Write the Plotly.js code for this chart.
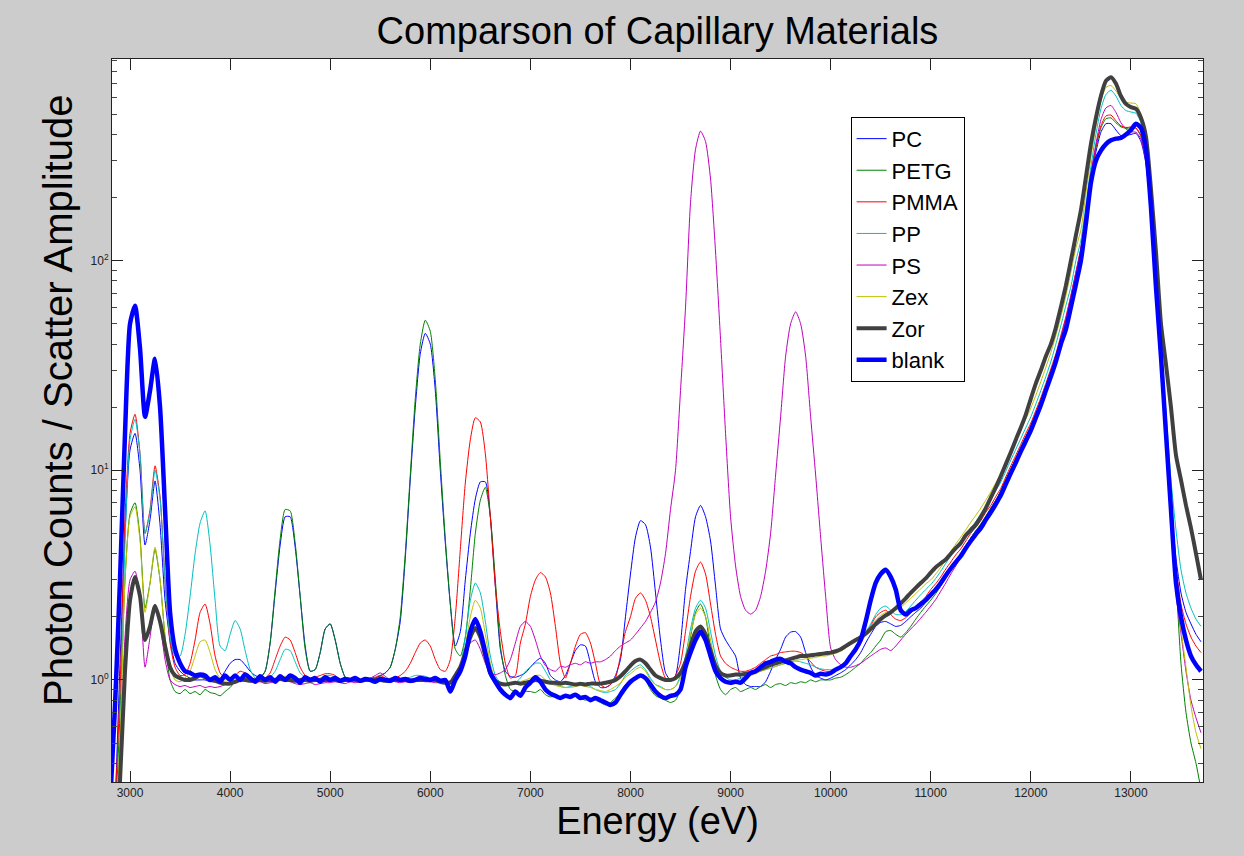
<!DOCTYPE html>
<html><head><meta charset="utf-8">
<script src="https://cdn.plot.ly/plotly-3.0.1.min.js"></script>
<style>html,body{margin:0;padding:0;background:#cccccc}</style>
</head><body><div id="chart" style="width:1244px;height:856px"></div>
<script>
const energy = [2800,2850,2900,2950,
3000,3050,3100,3150,3200,3250,3300,3350,3400,3450,3500,3550,3600,3650,3700,3750,3800,3850,3900,3950,
4000,4050,4100,4150,4200,4250,4300,4350,4400,4450,4500,4550,4600,4650,4700,4750,4800,4850,4900,4950,
5000,5050,5100,5150,5200,5250,5300,5350,5400,5450,5500,5550,5600,5650,5700,5750,5800,5850,5900,5950,
6000,6050,6100,6150,6200,6250,6300,6350,6400,6450,6500,6550,6600,6650,6700,6750,6800,6850,6900,6950,
7000,7050,7100,7150,7200,7250,7300,7350,7400,7450,7500,7550,7600,7650,7700,7750,7800,7850,7900,7950,
8000,8050,8100,8150,8200,8250,8300,8350,8400,8450,8500,8550,8600,8650,8700,8750,8800,8850,8900,8950,
9000,9050,9100,9150,9200,9250,9300,9350,9400,9450,9500,9550,9600,9650,9700,9750,9800,9850,9900,9950,
10000,10050,10100,10150,10200,10250,10300,10350,10400,10450,10500,10550,10600,10650,10700,10750,10800,10850,10900,10950,
11000,11050,11100,11150,11200,11250,11300,11350,11400,11450,11500,11550,11600,11650,11700,11750,11800,11850,11900,11950,
12000,12050,12100,12150,12200,12250,12300,12350,12400,12450,12500,12550,12600,12650,12700,12750,12800,12850,12900,12950,
13000,13050,13100,13150,13200,13250,13300,13350,13400,13450,13500,13550,13600,13650,13700];

const PC = [0.1,0.25,1.2,5,
12.5,15,10,4.4,5.8,8.9,5.5,2.4,1.55,1.2,1.1,1.05,1.02,1.0,1.0,1.0,0.98,1.0,1.02,1.1,
1.2,1.25,1.25,1.18,1.1,1.05,1.03,1.1,1.5,2.6,4.4,6.0,6.0,4.3,2.5,1.45,1.1,1.12,1.35,1.75,
1.85,1.55,1.2,1.03,1.0,1.0,1.0,1.0,1.0,1.02,1.05,1.08,1.15,1.4,1.9,3.8,9,20,36,45,
40,24,10,4.5,2.3,1.45,1.7,3.0,5.0,7.3,8.8,8.8,6.0,2.8,1.4,1.1,1.04,1.03,1.05,1.08,
1.15,1.22,1.27,1.2,1.05,1.0,0.98,1.05,1.2,1.38,1.47,1.45,1.2,0.98,0.92,0.92,0.95,1.05,1.25,2.0,
3.2,4.8,5.75,5.5,4.3,2.6,1.55,1.08,1.0,1.05,1.5,2.7,4.1,6.0,6.8,6.0,4.6,2.8,1.75,1.55,
1.42,1.3,1.02,0.95,0.93,0.93,0.93,0.98,1.1,1.25,1.4,1.6,1.69,1.7,1.6,1.35,1.15,1.05,1.02,1.0,
1.02,1.05,1.08,1.12,1.18,1.25,1.35,1.5,1.65,1.8,1.88,1.9,1.85,1.8,1.82,1.9,2.0,2.1,2.2,2.35,
2.55,2.7,2.9,3.15,3.4,3.7,4.0,4.35,4.75,5.15,5.5,6.0,6.6,7.2,8.0,9.0,10.1,11.4,12.9,14.5,
16.3,18.7,21.5,25,29.5,35,42,52,65,85,110,165,245,330,410,450,450,420,395,395,
400,405,370,290,160,68,32,15,7,3.8,2.6,2.1,1.85,1.65,1.52];

const PETG = [0.1,0.2,0.7,3.0,
6.2,7.0,4.8,2.2,2.9,4.2,3.0,1.6,1.0,0.88,0.86,0.9,0.86,0.88,0.85,0.9,0.87,0.86,0.84,0.88,
0.92,0.98,1.0,1.02,1.0,1.0,1.02,1.1,1.5,2.7,4.7,6.5,6.4,4.5,2.5,1.4,1.1,1.12,1.35,1.75,
1.85,1.55,1.2,1.03,1.0,1.0,0.99,1.0,1.0,1.02,1.04,1.08,1.15,1.4,2.0,4.0,9.5,22,40,52,
46,27,11,4.7,2.3,1.4,1.3,1.6,2.7,5.0,7.2,8.3,6.0,3.0,1.45,1.05,0.9,0.88,0.86,0.88,
0.88,0.87,0.9,0.85,0.83,0.84,0.82,0.84,0.83,0.85,0.82,0.8,0.82,0.8,0.78,0.76,0.78,0.82,0.86,0.95,
0.98,1.03,1.05,1.0,0.9,0.84,0.82,0.8,0.78,0.8,0.9,1.15,1.6,2.1,2.3,2.0,1.4,1.05,0.9,0.85,
0.9,0.92,0.88,0.9,0.92,0.9,0.93,0.95,0.92,0.95,0.96,0.94,0.97,0.96,0.98,0.97,1.0,0.98,1.0,1.0,
1.0,1.02,1.03,1.06,1.1,1.15,1.2,1.28,1.35,1.45,1.55,1.7,1.72,1.65,1.6,1.68,1.8,1.95,2.1,2.25,
2.4,2.58,2.8,3.05,3.35,3.65,3.95,4.35,4.75,5.15,5.55,6.05,6.6,7.2,7.95,9.0,10.1,11.4,12.8,14.4,
16.2,18.6,21.4,25,29.5,35,42.5,52,66,86,112,168,250,345,430,475,480,455,435,428,
430,428,390,300,165,70,33,15,7,3.0,1.2,0.7,0.5,0.4,0.3];

const PMMA = [0.1,0.25,0.9,6,
15,18.5,12,5.0,6.5,10.5,7.5,3.0,1.5,1.15,1.05,1.06,1.2,1.55,2.1,2.3,1.85,1.3,1.08,1.02,
1.02,1.05,1.1,1.08,1.03,1.0,1.0,1.02,1.08,1.25,1.45,1.6,1.55,1.35,1.15,1.05,1.02,1.03,1.05,1.07,
1.07,1.05,1.0,1.0,1.0,1.0,0.99,1.0,1.02,1.03,1.05,1.02,1.0,1.02,1.05,1.1,1.2,1.35,1.5,1.55,
1.45,1.25,1.12,1.1,1.25,2.0,4.2,8.7,14,17.8,17,12,6.0,2.8,1.7,1.2,1.02,1.05,1.5,1.85,
2.5,3.0,3.25,3.1,2.6,1.8,1.2,1.02,1.2,1.45,1.65,1.68,1.5,1.2,0.95,0.92,0.95,1.02,1.3,1.7,
2.0,2.45,2.6,2.4,2.0,1.55,1.2,1.02,1.0,1.05,1.2,1.7,2.5,3.3,3.65,3.2,2.3,1.65,1.3,1.2,
1.15,1.12,1.1,1.1,1.12,1.15,1.2,1.25,1.3,1.32,1.35,1.36,1.37,1.37,1.35,1.3,1.22,1.15,1.12,1.1,
1.1,1.12,1.15,1.2,1.28,1.38,1.5,1.65,1.82,2.0,2.1,2.15,2.05,1.95,1.92,1.98,2.08,2.2,2.35,2.5,
2.7,2.88,3.1,3.38,3.65,3.95,4.22,4.6,5.0,5.35,5.75,6.3,6.8,7.5,8.2,9.3,10.5,11.8,13.3,15,
16.8,19.3,22.2,26,30.5,36,44,54,68,88,115,170,255,350,440,490,495,465,440,432,
434,430,395,305,170,72,34,16,7.5,3.5,2.3,1.85,1.6,1.45,1.35];

const PP = [0.1,0.2,0.5,4.5,
14,17.5,12,5.0,6.3,10,7.3,3.0,1.6,1.3,1.3,1.65,2.5,4.0,5.6,6.4,4.4,2.4,1.45,1.38,
1.65,1.92,1.75,1.38,1.12,1.02,1.0,1.0,1.03,1.1,1.25,1.4,1.38,1.22,1.08,1.03,1.0,1.0,1.02,1.05,
1.05,1.03,1.0,1.0,1.01,1.0,1.0,1.02,1.0,1.01,1.0,1.0,1.02,1.01,1.0,1.02,1.03,1.05,1.05,1.04,
1.02,1.0,1.0,0.98,0.97,1.0,1.15,1.6,2.4,2.9,2.6,1.9,1.3,1.05,0.97,0.96,0.95,0.97,1.02,1.1,
1.15,1.2,1.2,1.1,1.0,0.95,0.93,0.92,0.93,0.95,0.97,0.96,0.93,0.9,0.88,0.87,0.88,0.9,0.96,1.05,
1.1,1.15,1.18,1.12,1.02,0.95,0.93,0.9,0.9,0.93,1.05,1.3,1.75,2.2,2.4,2.2,1.7,1.3,1.1,1.03,
1.0,1.0,1.02,1.04,1.06,1.08,1.1,1.12,1.14,1.16,1.18,1.2,1.22,1.23,1.22,1.2,1.18,1.15,1.13,1.12,
1.12,1.13,1.15,1.2,1.28,1.38,1.52,1.68,1.85,2.05,2.2,2.25,2.15,2.05,2.05,2.12,2.25,2.4,2.55,2.7,
2.85,3.05,3.3,3.6,3.9,4.2,4.5,4.9,5.3,5.7,6.15,6.7,7.3,8.0,8.8,9.9,11.2,12.6,14.2,16,
18,20.7,24,28,33,40,49,61,75,100,125,185,280,400,530,620,650,610,550,520,
512,505,455,350,200,85,40,19,9,5.2,3.35,2.6,2.2,1.95,1.8];

const PS = [0.1,0.2,0.4,1.6,
3.0,3.3,2.5,1.15,1.6,2.3,1.85,1.25,1.0,0.95,0.93,0.94,0.92,0.93,0.94,0.92,0.93,0.92,0.93,0.95,
0.96,0.98,1.0,1.0,0.98,0.97,0.98,0.96,0.97,0.98,1.0,0.99,0.98,0.96,0.95,0.96,0.97,0.95,0.96,0.97,
0.97,0.98,0.97,0.96,0.98,0.97,0.98,1.0,1.02,1.05,1.08,1.04,1.0,0.98,0.97,0.98,0.97,0.98,0.99,0.98,
0.98,0.97,0.97,0.98,0.99,1.02,1.1,1.3,1.5,1.55,1.4,1.2,1.08,1.06,1.08,1.12,1.25,1.5,1.8,1.9,
1.8,1.55,1.3,1.17,1.12,1.1,1.16,1.15,1.18,1.2,1.18,1.22,1.2,1.22,1.22,1.25,1.3,1.38,1.45,1.5,
1.55,1.65,1.77,1.9,2.1,2.35,2.9,4.0,6.5,10,24,60,190,340,415,370,245,110,42,15,
6.0,3.5,2.5,2.15,2.06,2.15,2.5,3.3,5.0,9.5,18,35,50,57,50,35,18,9.5,4.8,2.5,
1.42,1.25,1.18,1.15,1.15,1.17,1.2,1.25,1.3,1.35,1.4,1.42,1.38,1.45,1.55,1.65,1.75,1.85,1.97,2.1,
2.25,2.42,2.65,2.9,3.2,3.5,3.85,4.25,4.65,5.05,5.45,5.95,6.5,7.1,7.85,8.85,10.0,11.3,12.7,14.3,
16.1,18.5,21.3,25,29.5,35,43,53,68,88,115,172,260,360,470,535,550,510,455,425,
412,410,380,295,165,70,33,15,6.5,2.6,1.67,1.1,0.8,0.66,0.56];

const Zex = [0.1,0.2,0.5,3.0,
6.0,6.7,4.6,2.1,2.9,4.3,3.0,1.6,1.15,1.0,0.98,1.02,1.1,1.3,1.52,1.55,1.35,1.12,1.02,1.0,
1.0,0.99,1.0,1.01,1.0,0.99,1.0,1.0,1.01,1.02,1.03,1.04,1.03,1.01,1.0,1.0,0.99,1.0,1.0,1.0,
1.0,1.01,1.0,1.0,0.99,1.0,1.0,1.0,1.01,1.0,1.0,0.99,1.0,1.0,1.01,1.0,1.0,1.0,1.01,1.0,
1.0,0.98,0.97,0.97,0.97,1.0,1.1,1.45,2.0,2.4,2.2,1.65,1.2,1.0,0.96,0.95,0.95,0.96,0.98,1.0,
1.02,1.05,1.05,1.0,0.96,0.94,0.93,0.92,0.92,0.93,0.94,0.93,0.92,0.9,0.89,0.88,0.9,0.93,0.97,1.03,
1.07,1.12,1.15,1.1,1.0,0.95,0.92,0.9,0.9,0.93,1.02,1.25,1.65,2.05,2.2,2.0,1.55,1.2,1.05,1.0,
0.98,1.0,1.0,1.02,1.05,1.07,1.1,1.12,1.14,1.16,1.18,1.2,1.22,1.24,1.25,1.26,1.27,1.28,1.3,1.3,
1.32,1.34,1.37,1.42,1.48,1.55,1.63,1.72,1.82,1.93,2.03,2.1,2.12,2.15,2.22,2.33,2.45,2.58,2.72,2.87,
3.0,3.2,3.45,3.75,4.1,4.45,4.8,5.2,5.65,6.1,6.6,7.2,7.9,8.7,9.6,10.8,12.2,13.8,15.6,17.6,
19.8,22.8,26.5,31,36.5,44,54,68,88,115,140,210,310,440,580,670,685,645,595,570,
565,560,500,380,210,88,40,18,8,3.0,1.75,1.15,0.75,0.56,0.47];

const Zor = [0.1,0.15,0.33,1.1,
2.4,3.1,2.5,1.55,1.8,2.25,1.9,1.45,1.15,1.05,1.02,1.0,1.0,1.02,1.05,1.03,1.0,0.99,0.97,0.96,
0.96,0.98,1.0,1.0,0.99,1.0,1.0,0.99,1.0,1.0,1.01,1.0,1.0,0.99,1.0,1.0,0.99,1.0,1.0,1.0,
1.0,1.0,0.99,1.0,1.0,1.0,0.99,1.0,1.0,1.0,1.0,0.99,1.0,1.0,1.0,1.0,0.99,1.0,1.0,1.0,
1.0,1.0,0.98,0.97,0.97,1.05,1.15,1.35,1.6,1.77,1.6,1.3,1.08,0.99,0.96,0.95,0.96,0.97,0.96,0.97,
0.98,1.0,0.99,0.98,0.97,0.97,0.96,0.97,0.96,0.95,0.96,0.95,0.96,0.96,0.96,0.97,0.98,1.0,1.04,1.1,
1.17,1.23,1.25,1.2,1.12,1.05,1.02,1.0,1.0,1.02,1.08,1.22,1.45,1.7,1.8,1.65,1.38,1.17,1.08,1.05,
1.05,1.06,1.06,1.07,1.08,1.1,1.13,1.15,1.18,1.2,1.22,1.24,1.26,1.28,1.3,1.3,1.31,1.32,1.33,1.34,
1.35,1.37,1.4,1.45,1.5,1.55,1.6,1.66,1.75,1.85,1.95,2.03,2.1,2.2,2.32,2.45,2.6,2.75,2.9,3.05,
3.25,3.45,3.6,3.75,4.0,4.25,4.5,4.9,5.2,5.5,6.0,6.6,7.4,8.3,9.4,10.7,12.2,14.0,16.0,18.5,
22,26,30,35,40,48,60,76,100,132,174,250,360,480,610,720,750,700,610,560,
540,530,480,390,220,110,50,32,20,11.8,9.0,6.8,5.3,4.0,3.0];

const blank = [0.25,0.75,3.0,15,
50,61,38,18,24,34,20,6.5,2.1,1.4,1.2,1.1,1.08,1.05,1.06,1.05,1.0,1.03,0.98,1.05,
1.0,1.05,1.0,1.06,1.02,0.98,1.04,1.0,1.03,0.98,1.04,1.0,1.05,1.02,0.97,1.03,1.0,1.02,0.98,1.03,
1.0,1.02,0.99,1.01,1.0,1.02,0.99,1.01,1.0,0.98,1.01,1.0,0.99,1.02,1.0,1.01,0.99,1.0,1.02,1.01,
1.0,1.02,0.99,1.0,0.88,1.0,1.1,1.3,1.7,1.95,1.7,1.35,1.08,0.98,0.9,0.85,0.82,0.88,0.84,0.92,
0.97,1.03,0.98,0.9,0.86,0.84,0.82,0.84,0.83,0.85,0.82,0.83,0.8,0.82,0.8,0.78,0.76,0.78,0.85,0.92,
0.98,1.02,1.05,1.02,0.95,0.88,0.84,0.82,0.84,0.85,0.9,1.15,1.35,1.55,1.7,1.55,1.3,1.1,1.02,0.98,
0.97,0.98,0.97,1.02,1.08,1.1,1.15,1.2,1.22,1.25,1.26,1.22,1.2,1.15,1.12,1.1,1.08,1.05,1.07,1.06,
1.08,1.12,1.15,1.2,1.3,1.4,1.55,1.9,2.4,2.9,3.2,3.35,3.1,2.7,2.15,2.05,2.15,2.2,2.3,2.4,
2.55,2.7,2.9,3.15,3.4,3.65,3.9,4.25,4.6,4.95,5.3,5.8,6.3,6.9,7.6,8.6,9.7,10.9,12.3,13.8,
15.5,17.8,20.5,24,28,33,40,47,60,77,100,150,235,300,335,360,375,382,385,400,
420,450,430,340,180,75,35,15,6.5,2.9,2.0,1.55,1.3,1.18,1.1];

const seriesNames = ['PC','PETG','PMMA','PP','PS','Zex','Zor','blank'];
const seriesValues = [PC, PETG, PMMA, PP, PS, Zex, Zor, blank];
const xTickValues = [3000,4000,5000,6000,7000,8000,9000,10000,11000,12000,13000];
const xTickLabels = ['3000','4000','5000','6000','7000','8000','9000','10000','11000','12000','13000'];
const yTickValues = [1, 10, 100];
const yTickLabels = ['10<sup>0</sup>','10<sup>1</sup>','10<sup>2</sup>'];
const chartTitle = 'Comparson of Capillary Materials';
const xTitle = 'Energy (eV)';
const yTitle = 'Photon Counts / Scatter Amplitude';

seriesValues.forEach((s, i) => {
  if (s.length !== energy.length) throw new Error(seriesNames[i] + ' length ' + s.length + ' vs ' + energy.length);
});

const styles = {
  PC:    {color:'#0000ff', width:1},
  PETG:  {color:'#008000', width:1},
  PMMA:  {color:'#ff0000', width:1},
  PP:    {color:'#00bfbf', width:1},
  PS:    {color:'#bf00bf', width:1},
  Zex:   {color:'#bfbf00', width:1},
  Zor:   {color:'#404040', width:4},
  blank: {color:'#0000ff', width:4.5}
};

const traces = seriesNames.map((name, i) => ({
  type: 'scatter', mode: 'lines', name: name,
  x: energy, y: seriesValues[i],
  line: {color: styles[name].color, width: styles[name].width, shape: 'spline', smoothing: 0.6}
}));

const font = 'Liberation Sans, Arial, Helvetica, sans-serif';
const layout = {
  width: 1244, height: 856,
  paper_bgcolor: '#cccccc', plot_bgcolor: '#ffffff',
  margin: {l: 112, r: 41, t: 59, b: 74},
  font: {family: font, color: '#000'},
  title: {text: chartTitle, font: {size: 38, family: font, color: '#000'},
          x: 0.5, xref: 'paper', y: 1 - 31/856, yref: 'container', yanchor: 'middle'},
  showlegend: true,
  legend: {x: 0.677, y: 0.92, xanchor: 'left', yanchor: 'top', bgcolor: '#ffffff',
           bordercolor: '#000000', borderwidth: 1, font: {size: 22, family: font, color: '#000'}},
  xaxis: {
    range: [2820, 13720], tickmode: 'array', tickvals: xTickValues, ticktext: xTickLabels,
    ticks: 'inside', ticklen: 11, tickcolor: '#222', mirror: 'ticks',
    showline: true, linecolor: '#222', linewidth: 1, showgrid: false, zeroline: false,
    tickfont: {size: 12, family: font, color: '#222'},
    title: {text: xTitle, font: {size: 38, family: font, color: '#000'}, standoff: 6}
  },
  yaxis: {
    type: 'log', range: [-0.487, 2.962], tickmode: 'array', tickvals: yTickValues, ticktext: yTickLabels,
    ticks: 'inside', ticklen: 11, tickcolor: '#222', mirror: 'ticks',
    minor: {dtick: 'D1', ticks: 'inside', ticklen: 5, tickcolor: '#444', showgrid: false},
    showline: true, linecolor: '#222', linewidth: 1, showgrid: false, zeroline: false,
    tickfont: {size: 12, family: font, color: '#222'}
  },
  annotations: [{
    text: yTitle, textangle: -90, showarrow: false,
    xref: 'paper', yref: 'paper', x: (58 - 112) / 1091, y: (782 - 401) / 723,
    xanchor: 'center', yanchor: 'middle',
    font: {size: 40, family: font, color: '#000'}
  }]
};

Plotly.newPlot('chart', traces, layout, {displayModeBar: false, staticPlot: true});
</script></body></html>
